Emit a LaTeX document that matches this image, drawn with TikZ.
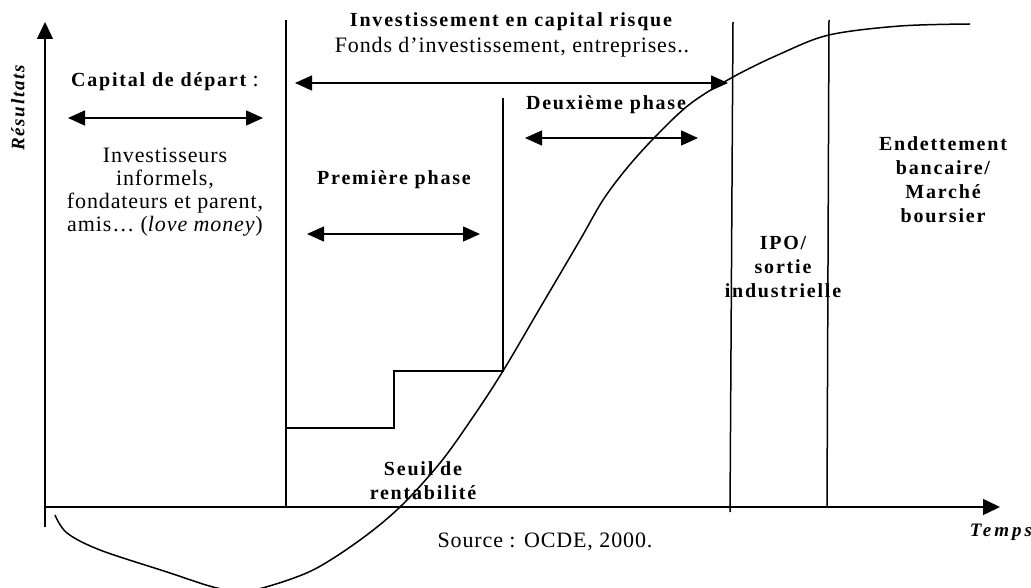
\documentclass[tikz,border=0pt]{standalone}
\usepackage{fontspec}
\setmainfont{Liberation Serif}
\newfontfamily\regsp[LetterSpace=4]{Liberation Serif}
\newfontfamily\boldsp[LetterSpace=9]{Liberation Serif}
\newfontfamily\widesp[LetterSpace=16]{Liberation Serif}
\usetikzlibrary{arrows.meta}
\tikzset{
  ln/.style={line width=1.5pt},
  dbl/.style={line width=1.5pt,{Triangle[length=17pt,width=15pt]}-{Triangle[length=17pt,width=15pt]}},
  axis/.style={line width=1.5pt,-{Triangle[length=17pt,width=16pt]}},
  lbl/.style={font=\fontsize{20}{24}\boldsp\bfseries,align=center,inner sep=0pt},
  txt/.style={font=\fontsize{22}{23}\regsp,align=center,inner sep=0pt},
}
\begin{document}
\begin{tikzpicture}[x=1pt,y=-1pt]
\useasboundingbox (0,0) rectangle (1031,588);
% axes
\coordinate (o) at (45,507);
\coordinate (ytop) at (45,22);
\coordinate (ybot) at (45,527);
\coordinate (xend) at (1000,507);
\draw[ln] (ybot) -- (o);
\draw[axis] (o) -- (ytop);
\draw[axis] (o) -- (xend);
% vertical lines
\coordinate (v1t) at (286,20); \coordinate (v1b) at (286,507);
\coordinate (v2t) at (733,22); \coordinate (v2b) at (730,512);
\coordinate (v3t) at (829,20); \coordinate (v3b) at (827,507);
\draw[ln] (v1t) -- (v1b);
\draw[ln] (v2t) -- (v2b);
\draw[ln] (v3t) -- (v3b);
% steps
\coordinate (s1) at (286,428);
\coordinate (s2) at (394,428);
\coordinate (s3) at (394,371);
\coordinate (s4) at (503,371);
\coordinate (s5) at (503,98);
\draw[ln] (s1) -- (s2) -- (s3) -- (s4) -- (s5);
% double arrows
\coordinate (a1l) at (68,118); \coordinate (a1r) at (263,118);
\coordinate (a2l) at (295,83); \coordinate (a2r) at (728,83);
\coordinate (a3l) at (307,234); \coordinate (a3r) at (480,234);
\coordinate (a4l) at (525,138); \coordinate (a4r) at (698,138);
\draw[dbl] (a1l) -- (a1r);
\draw[dbl] (a2l) -- (a2r);
\draw[dbl] (a3l) -- (a3r);
\draw[dbl] (a4l) -- (a4r);
% curve
\draw[ln] plot[smooth,tension=0.55] coordinates {(55,515) (67,533) (100,550) (167,572) (213,587) (240,591) (266,587) (313,570) (360,540) (400,507) (440,463) (473,417) (503,371) (540,308) (580,240) (603,200) (627,168) (655,137) (690,104) (733,77) (780,54) (829,35) (900,26) (970,24)};
% labels
\node[rotate=90,font=\fontsize{19}{22}\boldsp\bfseries\itshape,inner sep=0pt] (res) at (18,108) {Résultats};
\node[txt] (cap) at (165,82) {{\fontsize{20}{23}\boldsp\bfseries Capital de départ} :};
\node[txt] (inv) at (165,192) {Investisseurs\\informels,\\fondateurs et parent,\\amis… (\textit{love money})};
\node[lbl] (icr) at (511,22) {Investissement en capital risque};
\node[txt] (fonds) at (512,47) {Fonds d’investissement, entreprises..};
\node[lbl] (deux) at (606,105) {Deuxième phase};
\node[lbl] (prem) at (394,180) {Première phase};
\node[lbl] (endet) at (943,180) {Endettement\\bancaire/\\Marché\\boursier};
\node[lbl] (ipo) at (783,267) {IPO/\\sortie\\industrielle};
\node[lbl] (seuil) at (423,481) {Seuil de\\rentabilité};
\node[txt] (src) at (545,542) {Source : OCDE, 2000.};
\node[font=\fontsize{19}{22}\widesp\bfseries\itshape,inner sep=0pt] (temps) at (1001,532) {Temps};
\end{tikzpicture}
\end{document}
